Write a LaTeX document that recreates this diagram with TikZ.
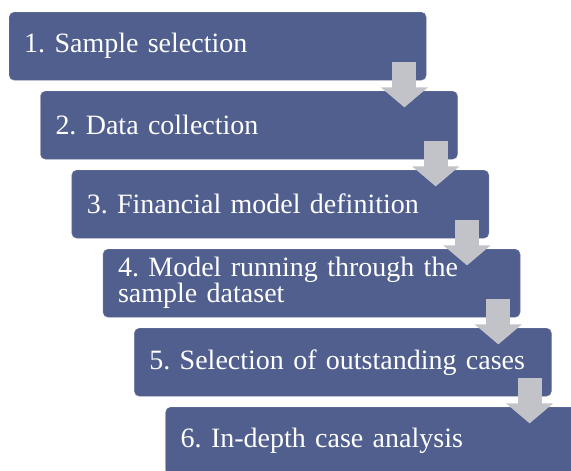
\documentclass[tikz,border=0pt]{standalone}
\usepackage{fontspec}
\setmainfont{Liberation Serif}
\usetikzlibrary{%
  arrows.meta,%
  positioning,%
  calc%
}
\definecolor{boxblue}{RGB}{81,95,143}
\definecolor{arrowgray}{RGB}{194,195,201}

\tikzset{
  stepbox/.style={draw=boxblue!85!white, fill=boxblue, rounded corners=5pt,
    anchor=north west, minimum width=417pt, minimum height=68pt,
    text width=387pt, inner xsep=15pt, align=left, text=white,
    font=\fontsize{28}{26}\selectfont\frenchspacing},
  flowarrow/.style={draw=arrowgray, line width=24pt,
    -{Triangle[length=20pt,width=46pt]}}
}

\begin{document}
\begin{tikzpicture}[x=1pt, y=-1pt]

\useasboundingbox (0,0) rectangle (571,471);
\clip (0,0) rectangle (571,471);

% -------- steps
\foreach \i/\txt in {1/{1. Sample selection},
                     2/{2. Data collection},
                     3/{3. Financial model definition},
                     4/{4. Model running through the\\sample dataset},
                     5/{5. Selection of outstanding cases},
                     6/{6. In-depth case analysis}}
  \node[stepbox] (s\i) at ({9+31.3*(\i-1)}, {12+79*(\i-1)}) {\txt};

% -------- arrows between steps
\foreach \i in {1,...,5}
  \draw[flowarrow] ($(s\i.south east)+(-22,-18)$) -- ($(s\i.south east)+(-22,27)$);

\end{tikzpicture}
\end{document}
